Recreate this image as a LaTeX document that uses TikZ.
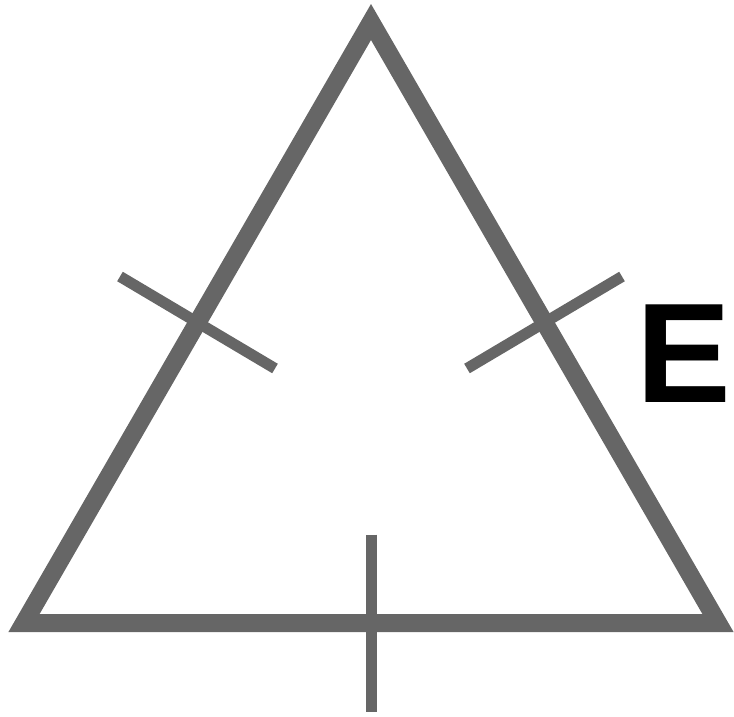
\documentclass[tikz,border=0pt]{standalone}
\usepackage{fontspec}
\setmainfont{Liberation Sans}
\begin{document}
\begin{tikzpicture}[x=1pt,y=-1pt,
  side/.style={draw=tri,line width=18pt,line join=miter},
  tick/.style={draw=tri,line width=11pt}]
\definecolor{tri}{HTML}{666666}
\useasboundingbox (0,0) rectangle (734,716);
\coordinate (A) at (371,22);
\coordinate (B) at (24,623);
\coordinate (C) at (718,623);
\draw[side] (A) -- (B) -- (C) -- cycle;
\path (A) -- (B) coordinate[pos=0.5] (mL);
\path (A) -- (C) coordinate[pos=0.5] (mR);
\path (B) -- (C) coordinate[pos=0.5] (mB);
\draw[tick] ([shift={(-77.5,-46)}]mL) coordinate (l1) -- ([shift={(77.5,46)}]mL) coordinate (l2);
\draw[tick] ([shift={(77.5,-46)}]mR) coordinate (r1) -- ([shift={(-77.5,46)}]mR) coordinate (r2);
\draw[tick] ([shift={(0,-88.5)}]mB) coordinate (b1) -- ([shift={(0,88.5)}]mB) coordinate (b2);
\node[anchor=base west,inner sep=0pt,font=\bfseries\fontsize{142}{142}\selectfont] (E) at (636,402) {E};
\end{tikzpicture}
\end{document}
